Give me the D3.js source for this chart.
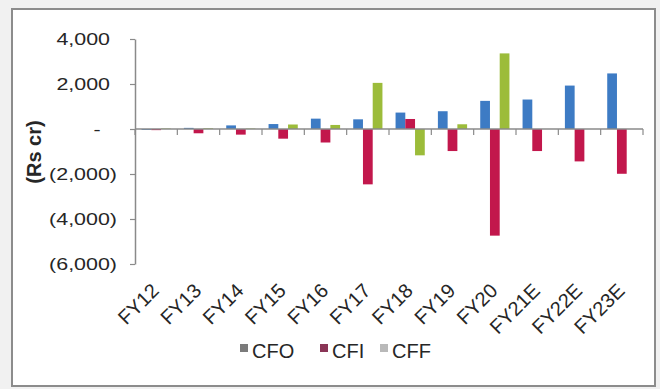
<!DOCTYPE html>
<html>
<head>
<meta charset="utf-8">
<script src="https://cdn.jsdelivr.net/npm/d3@7/dist/d3.min.js"></script>
<style>
  html, body { margin: 0; padding: 0; background: #f1f1f1; }
  svg { display: block; font-family: "Liberation Sans", Arial, sans-serif; }
</style>
</head>
<body>
<svg id="chart" width="660" height="389"></svg>
<script>
// Cash flow summary, Rs cr
const categories = ["FY12", "FY13", "FY14", "FY15", "FY16", "FY17", "FY18", "FY19", "FY20", "FY21E", "FY22E", "FY23E"];
const seriesNames = ["CFO", "CFI", "CFF"];
const cfo = [-40, 50, 160, 220, 460, 430, 730, 790, 1250, 1310, 1930, 2470];
const cfi = [-50, -190, -250, -430, -600, -2460, 445, -980, -4740, -980, -1440, -1990];
const cff = [20, 30, 20, 200, 180, 2050, -1170, 210, 3360, 0, 0, 0];
const yTicks = [4000, 2000, 0, -2000, -4000, -6000];

const barColors = { CFO: "#3d7bc4", CFI: "#c2174c", CFF: "#9cbc3a" };
const legendColors = { CFO: "#7b7b7b", CFI: "#8a3556", CFF: "#b9b9b9" };

const values = { CFO: cfo, CFI: cfi, CFF: cff };
const rows = categories.map((c, i) => ({ cat: c, vals: seriesNames.map(s => ({ key: s, value: values[s][i] })) }));

const svg = d3.select("#chart");

// outer frame
svg.append("rect")
  .attr("x", 12).attr("y", 9).attr("width", 643).attr("height", 377)
  .attr("fill", "#ffffff").attr("stroke", "#8c8c8c").attr("stroke-width", 2);

const plotLeft = 135, plotRight = 643, plotTop = 39, plotBottom = 264;

const x0 = d3.scaleBand().domain(categories).range([plotLeft, plotRight])
  .paddingInner(0.31).paddingOuter(0.155);
const x1 = d3.scaleBand().domain(seriesNames).range([0, x0.bandwidth()]);
const y = d3.scaleLinear().domain([-6000, 4000]).range([plotBottom, plotTop]);

const axisColor = "#8a8a8a";
const textColor = "#262626";

// bars
const groups = svg.append("g").selectAll("g").data(rows).join("g")
  .attr("transform", d => `translate(${x0(d.cat)},0)`);
groups.selectAll("rect").data(d => d.vals).join("rect")
  .attr("x", d => x1(d.key))
  .attr("width", x1.bandwidth())
  .attr("y", d => y(Math.max(0, d.value)))
  .attr("height", d => Math.abs(y(d.value) - y(0)))
  .attr("fill", d => barColors[d.key]);

// y axis
const yAxis = svg.append("g").attr("transform", `translate(${plotLeft},0)`)
  .call(d3.axisLeft(y).tickValues(yTicks).tickSize(5).tickSizeOuter(0)
    .tickFormat(v => v === 0 ? "-" : v < 0 ? `(${d3.format(",")(-v)})` : d3.format(",")(v)));
yAxis.select(".domain").attr("stroke", axisColor).attr("stroke-width", 1.5);
yAxis.selectAll(".tick line").attr("stroke", axisColor).attr("stroke-width", 1.2);
yAxis.selectAll(".tick text")
  .attr("x", null).attr("dy", "0.36em")
  .attr("font-size", 16).attr("fill", textColor)
  .attr("text-anchor", v => v === 0 ? "middle" : "end")
  .attr("transform", v => {
    const xe = v === 0 ? -38 : v < 0 ? -18 : -25;
    return `translate(${xe},0) scale(1.34,1)`;
  });

// category axis along zero
const zeroY = y(0);
svg.append("line")
  .attr("x1", plotLeft).attr("x2", plotRight).attr("y1", zeroY).attr("y2", zeroY)
  .attr("stroke", axisColor).attr("stroke-width", 1.5);
const step = x0.step();
const firstEdge = x0(categories[0]) - step * x0.paddingOuter();
svg.append("g").selectAll("line").data(d3.range(categories.length + 1)).join("line")
  .attr("x1", i => firstEdge + i * step)
  .attr("x2", i => firstEdge + i * step)
  .attr("y1", zeroY).attr("y2", zeroY + 6)
  .attr("stroke", axisColor).attr("stroke-width", 1.2);

// category labels, rotated
svg.append("g").selectAll("text").data(categories).join("text")
  .attr("transform", d => `translate(${x0(d) + x0.bandwidth() / 2 + 4},292) rotate(-45)`)
  .attr("text-anchor", "end")
  .attr("font-size", 20).attr("fill", textColor)
  .text(d => d);

// y axis title
svg.append("text")
  .attr("transform", "translate(41,152) rotate(-90)")
  .attr("text-anchor", "middle")
  .attr("font-size", 20).attr("font-weight", "bold").attr("fill", textColor)
  .text("(Rs cr)");

// legend
const legendX = [240, 320, 380];
const legend = svg.append("g").selectAll("g").data(seriesNames).join("g")
  .attr("transform", (d, i) => `translate(${legendX[i]},0)`);
legend.append("rect")
  .attr("x", 0).attr("y", 344).attr("width", 8).attr("height", 8)
  .attr("fill", d => legendColors[d]);
legend.append("text")
  .attr("x", 12).attr("y", 358)
  .attr("font-size", 20).attr("fill", textColor)
  .text(d => d);
</script>
</body>
</html>
